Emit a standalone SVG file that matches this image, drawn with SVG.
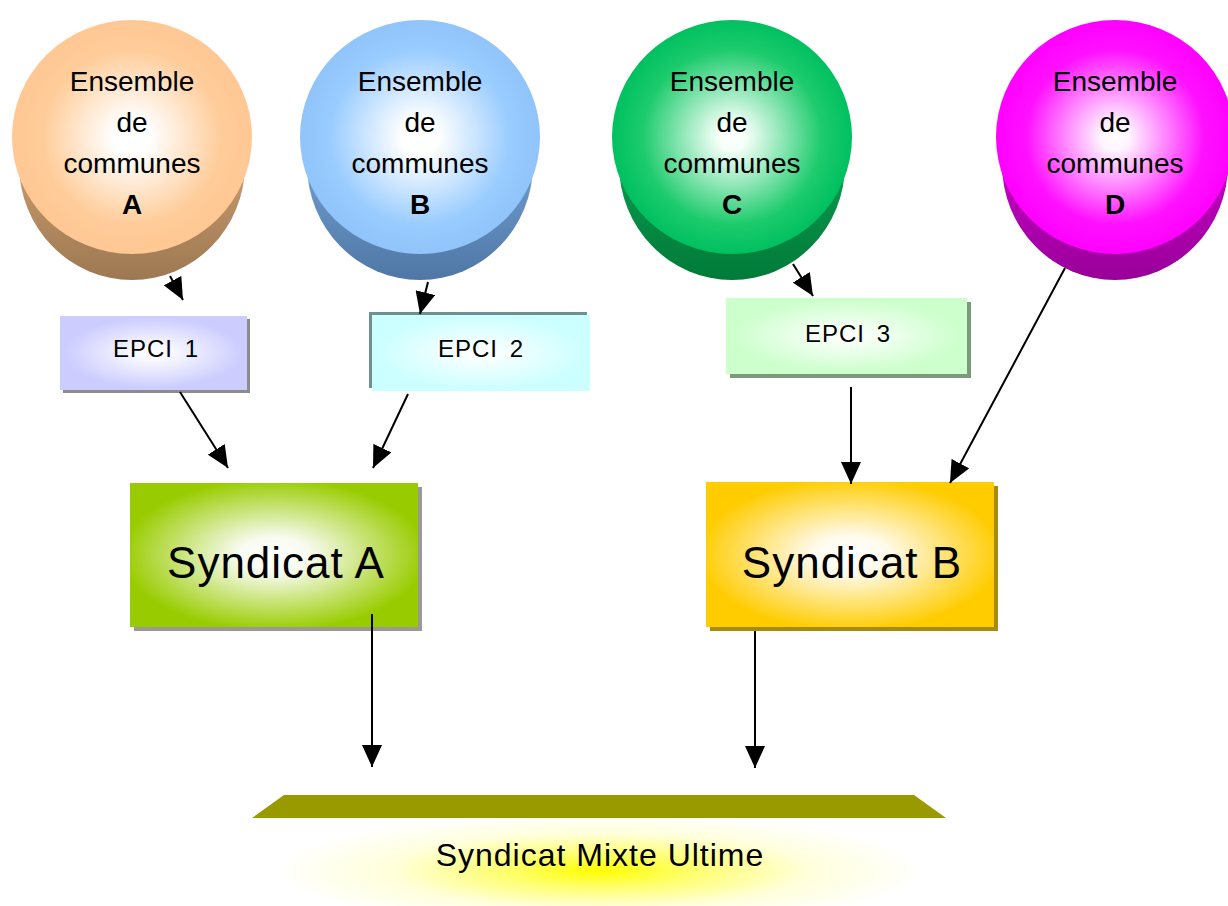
<svg xmlns="http://www.w3.org/2000/svg" width="1228" height="906" viewBox="0 0 1228 906">
<style>
.ct{font-family:"Liberation Sans",Arial,sans-serif;font-size:28px;fill:#000;text-anchor:middle}
.bold{font-weight:bold}
.ep{font-family:"Liberation Sans",Arial,sans-serif;font-size:24px;letter-spacing:1px;word-spacing:4px;text-anchor:middle}
.sy{font-family:"Liberation Sans",Arial,sans-serif;font-size:44px;letter-spacing:1px;text-anchor:middle}
.sm{font-family:"Liberation Sans",Arial,sans-serif;font-size:32px;letter-spacing:1px;text-anchor:middle}
.conn line{stroke:#000;stroke-width:2;marker-end:url(#ah)}
</style>
<defs>
<marker id="ah" markerUnits="userSpaceOnUse" markerWidth="22" markerHeight="20" refX="22" refY="10" orient="auto">
<path d="M0,0 L22,10 L0,20 z" fill="#000"/>
</marker>
<radialGradient id="gA" cx="0.5" cy="0.5" r="0.5"><stop offset="0" stop-color="#fff"/><stop offset="0.15" stop-color="#fff"/><stop offset="0.75" stop-color="#FFCC99"/><stop offset="1" stop-color="#FFC793"/></radialGradient>
<radialGradient id="gB" cx="0.5" cy="0.5" r="0.5"><stop offset="0" stop-color="#fff"/><stop offset="0.15" stop-color="#fff"/><stop offset="0.75" stop-color="#99CCFF"/><stop offset="1" stop-color="#90C4FA"/></radialGradient>
<radialGradient id="gC" cx="0.5" cy="0.5" r="0.5"><stop offset="0" stop-color="#fff"/><stop offset="0.12" stop-color="#F4FFF8"/><stop offset="0.75" stop-color="#1CCB6C"/><stop offset="1" stop-color="#00C060"/></radialGradient>
<radialGradient id="gD" cx="0.5" cy="0.5" r="0.5"><stop offset="0" stop-color="#fff"/><stop offset="0.12" stop-color="#FFF4FF"/><stop offset="0.75" stop-color="#FF10FF"/><stop offset="1" stop-color="#FF00FF"/></radialGradient>
<linearGradient id="sA" x1="0" y1="0" x2="0" y2="1"><stop offset="0.5" stop-color="#C99A6C"/><stop offset="1" stop-color="#9C7852"/></linearGradient>
<linearGradient id="sB" x1="0" y1="0" x2="0" y2="1"><stop offset="0.5" stop-color="#6F9CCD"/><stop offset="1" stop-color="#4F77A6"/></linearGradient>
<linearGradient id="sC" x1="0" y1="0" x2="0" y2="1"><stop offset="0.5" stop-color="#0A9B4E"/><stop offset="1" stop-color="#007A38"/></linearGradient>
<linearGradient id="sD" x1="0" y1="0" x2="0" y2="1"><stop offset="0.5" stop-color="#C400C4"/><stop offset="1" stop-color="#990099"/></linearGradient>
<radialGradient id="e1" cx="0.5" cy="0.5" r="0.6"><stop offset="0" stop-color="#fff"/><stop offset="0.2" stop-color="#F6F6FF"/><stop offset="0.8" stop-color="#CCCCFF"/></radialGradient>
<radialGradient id="e2" cx="0.5" cy="0.5" r="0.6"><stop offset="0" stop-color="#fff"/><stop offset="0.2" stop-color="#F4FFFF"/><stop offset="0.8" stop-color="#CCFFFF"/></radialGradient>
<radialGradient id="e3" cx="0.5" cy="0.5" r="0.6"><stop offset="0" stop-color="#fff"/><stop offset="0.2" stop-color="#F4FFF4"/><stop offset="0.8" stop-color="#CCFFCC"/></radialGradient>
<radialGradient id="sgA" cx="0.5" cy="0.5" r="0.62"><stop offset="0" stop-color="#fff"/><stop offset="0.2" stop-color="#F8FBF0"/><stop offset="0.85" stop-color="#99CC00"/></radialGradient>
<radialGradient id="sgB" cx="0.5" cy="0.5" r="0.62"><stop offset="0" stop-color="#fff"/><stop offset="0.2" stop-color="#FFFBEF"/><stop offset="0.85" stop-color="#FFCC00"/></radialGradient>
<radialGradient id="glow" cx="0.5" cy="0.6" r="0.55" gradientTransform="translate(0.5 0.6) scale(1 1.4) translate(-0.5 -0.6)"><stop offset="0" stop-color="#FFFF00"/><stop offset="0.25" stop-color="#FFFF70"/><stop offset="0.55" stop-color="#FFFFDC"/><stop offset="0.85" stop-color="#FFFFFF"/></radialGradient>
</defs>
<rect width="1228" height="906" fill="#fff"/>

<g id="cylA">
<ellipse cx="132" cy="164" rx="113" ry="116" fill="url(#sA)"/>
<ellipse cx="132" cy="137" rx="120" ry="117" fill="url(#gA)"/>
<text class="ct" x="132" y="91">Ensemble</text>
<text class="ct" x="132" y="132">de</text>
<text class="ct" x="132" y="173">communes</text>
<text class="ct bold" x="132" y="214">A</text>
</g>
<g id="cylB">
<ellipse cx="420" cy="164" rx="113" ry="116" fill="url(#sB)"/>
<ellipse cx="420" cy="137" rx="120" ry="117" fill="url(#gB)"/>
<text class="ct" x="420" y="91">Ensemble</text>
<text class="ct" x="420" y="132">de</text>
<text class="ct" x="420" y="173">communes</text>
<text class="ct bold" x="420" y="214">B</text>
</g>
<g id="cylC">
<ellipse cx="732" cy="164" rx="113" ry="116" fill="url(#sC)"/>
<ellipse cx="732" cy="137" rx="120" ry="117" fill="url(#gC)"/>
<text class="ct" x="732" y="91">Ensemble</text>
<text class="ct" x="732" y="132">de</text>
<text class="ct" x="732" y="173">communes</text>
<text class="ct bold" x="732" y="214">C</text>
</g>
<g id="cylD">
<ellipse cx="1115" cy="164" rx="113" ry="116" fill="url(#sD)"/>
<ellipse cx="1115" cy="137" rx="119" ry="117" fill="url(#gD)"/>
<text class="ct" x="1115" y="91">Ensemble</text>
<text class="ct" x="1115" y="132">de</text>
<text class="ct" x="1115" y="173">communes</text>
<text class="ct bold" x="1115" y="214">D</text>
</g>

<g id="epci1">
<rect x="63" y="319" width="187" height="74" fill="#8C8C8C"/>
<rect x="60" y="316" width="187" height="74" fill="url(#e1)"/>
<text class="ep" x="156" y="357">EPCI 1</text>
</g>
<g id="epci2">
<rect x="369" y="312" width="218" height="76" fill="#6F9090"/>
<rect x="372" y="315" width="218" height="76" fill="url(#e2)"/>
<text class="ep" x="481" y="357">EPCI 2</text>
</g>
<g id="epci3">
<rect x="730" y="302" width="241" height="76" fill="#7A9A7A"/>
<rect x="726" y="298" width="241" height="76" fill="url(#e3)"/>
<text class="ep" x="848" y="342">EPCI 3</text>
</g>

<g id="synA">
<rect x="134" y="487" width="288" height="144" fill="#999999"/>
<rect x="130" y="483" width="288" height="144" fill="url(#sgA)"/>
<text class="sy" x="276" y="578">Syndicat A</text>
</g>
<g id="synB">
<rect x="710" y="486" width="288" height="145" fill="#A88A10"/>
<rect x="706" y="482" width="288" height="145" fill="url(#sgB)"/>
<text class="sy" x="852" y="578">Syndicat B</text>
</g>

<g id="mixte">
<rect x="252" y="818" width="694" height="88" fill="url(#glow)"/>
<polygon points="284,795 914,795 946,818 252,818" fill="#999900"/>
<text class="sm" x="600" y="866">Syndicat Mixte Ultime</text>
</g>

<g id="connectors" class="conn">
<line x1="170" y1="276" x2="183" y2="300"/>
<line x1="428" y1="282" x2="420" y2="314"/>
<line x1="793" y1="264" x2="813" y2="296"/>
<line x1="1065" y1="268" x2="950" y2="483"/>
<line x1="180" y1="392" x2="228" y2="468"/>
<line x1="408" y1="394" x2="373" y2="468"/>
<line x1="851" y1="387" x2="851" y2="484"/>
<line x1="372" y1="614" x2="372" y2="767"/>
<line x1="755" y1="631" x2="755" y2="768"/>
</g>
</svg>
